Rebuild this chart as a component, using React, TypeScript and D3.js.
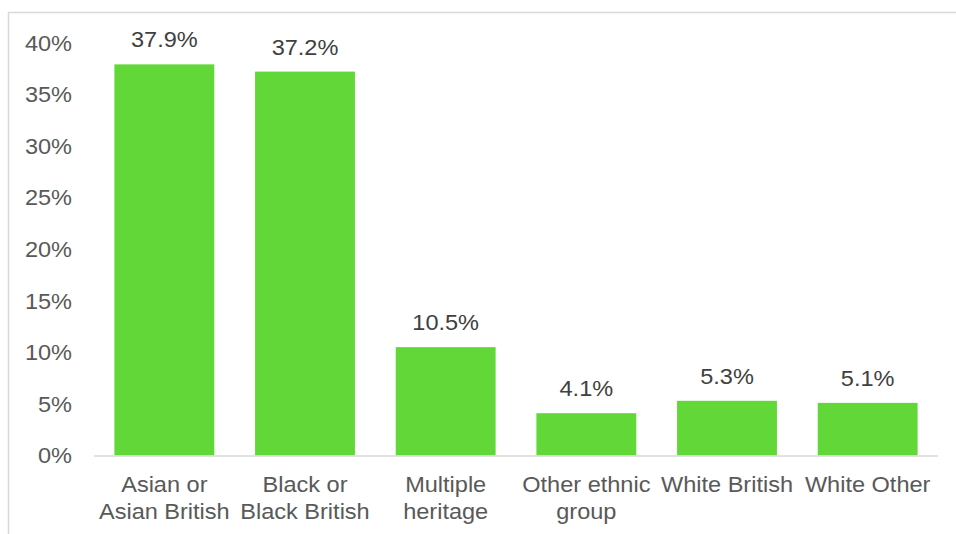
import React, { useRef, useEffect } from 'react';
import * as d3 from 'd3';

const categories = ['Asian or Asian British', 'Black or Black British', 'Multiple heritage', 'Other ethnic group', 'White British', 'White Other'];
const categoryLines = [['Asian or', 'Asian British'], ['Black or', 'Black British'], ['Multiple', 'heritage'], ['Other ethnic', 'group'], ['White British'], ['White Other']];
const values = [37.9, 37.2, 10.5, 4.1, 5.3, 5.1];
const yTicks = [0, 5, 10, 15, 20, 25, 30, 35, 40];

const W = 956;
const H = 534;
const FONT = '"Liberation Sans", Arial, sans-serif';
const TEXT = '#595959';
const SX = 1.07; // the source text is a little wider than Liberation Sans

const App: React.FC = () => {
  const ref = useRef<SVGSVGElement>(null);

  useEffect(() => {
    const svg = d3.select(ref.current!);
    svg.selectAll('*').remove();

    const left = 94, right = 938, top = 42.7, bottom = 455.5;

    const x = d3.scaleBand<string>()
      .domain(categories)
      .range([left, right])
      .paddingInner(0.29)
      .paddingOuter(0.145);

    const y = d3.scaleLinear().domain([0, 40]).range([bottom, top]);

    // chart frame
    svg.append('rect')
      .attr('x', 8.5).attr('y', 12.5)
      .attr('width', W + 20).attr('height', H + 20)
      .attr('fill', '#fff')
      .attr('stroke', '#d9d9d9')
      .attr('stroke-width', 1.5);

    // y tick labels
    svg.append('g')
      .selectAll('text')
      .data(yTicks)
      .enter().append('text')
      .attr('transform', d => `translate(72,${y(d)}) scale(${SX},1)`)
      .attr('dy', '0.36em')
      .attr('text-anchor', 'end')
      .attr('font-family', FONT)
      .attr('font-size', 22)
      .attr('fill', TEXT)
      .text(d => `${d}%`);

    // bars
    svg.append('g')
      .selectAll('rect')
      .data(values)
      .enter().append('rect')
      .attr('x', (_, i) => x(categories[i])!)
      .attr('y', d => y(d))
      .attr('width', x.bandwidth())
      .attr('height', d => bottom - y(d))
      .attr('fill', '#62d838');

    // baseline
    svg.append('line')
      .attr('x1', left).attr('x2', right)
      .attr('y1', bottom + 0.5).attr('y2', bottom + 0.5)
      .attr('stroke', '#d9d9d9')
      .attr('stroke-width', 1.5);

    // value labels
    svg.append('g')
      .selectAll('text')
      .data(values)
      .enter().append('text')
      .attr('transform', (d, i) => `translate(${x(categories[i])! + x.bandwidth() / 2},${y(d) - 17}) scale(${SX},1)`)
      .attr('text-anchor', 'middle')
      .attr('font-family', FONT)
      .attr('font-size', 22)
      .attr('fill', '#404040')
      .text(d => `${d.toFixed(1)}%`);

    // category labels
    const cat = svg.append('g')
      .selectAll('text')
      .data(categoryLines)
      .enter().append('text')
      .attr('transform', (_, i) => `translate(${x(categories[i])! + x.bandwidth() / 2},492) scale(${SX},1)`)
      .attr('text-anchor', 'middle')
      .attr('font-family', FONT)
      .attr('font-size', 22)
      .attr('fill', TEXT);

    cat.selectAll('tspan')
      .data(d => d)
      .enter().append('tspan')
      .attr('x', 0)
      .attr('dy', (_, j) => (j === 0 ? 0 : 27))
      .text(d => d);
  }, []);

  return (
    <svg
      ref={ref}
      width={W}
      height={H}
      style={{ position: 'absolute', left: 0, top: 0, display: 'block', background: '#fff' }}
    />
  );
};

export default App;
